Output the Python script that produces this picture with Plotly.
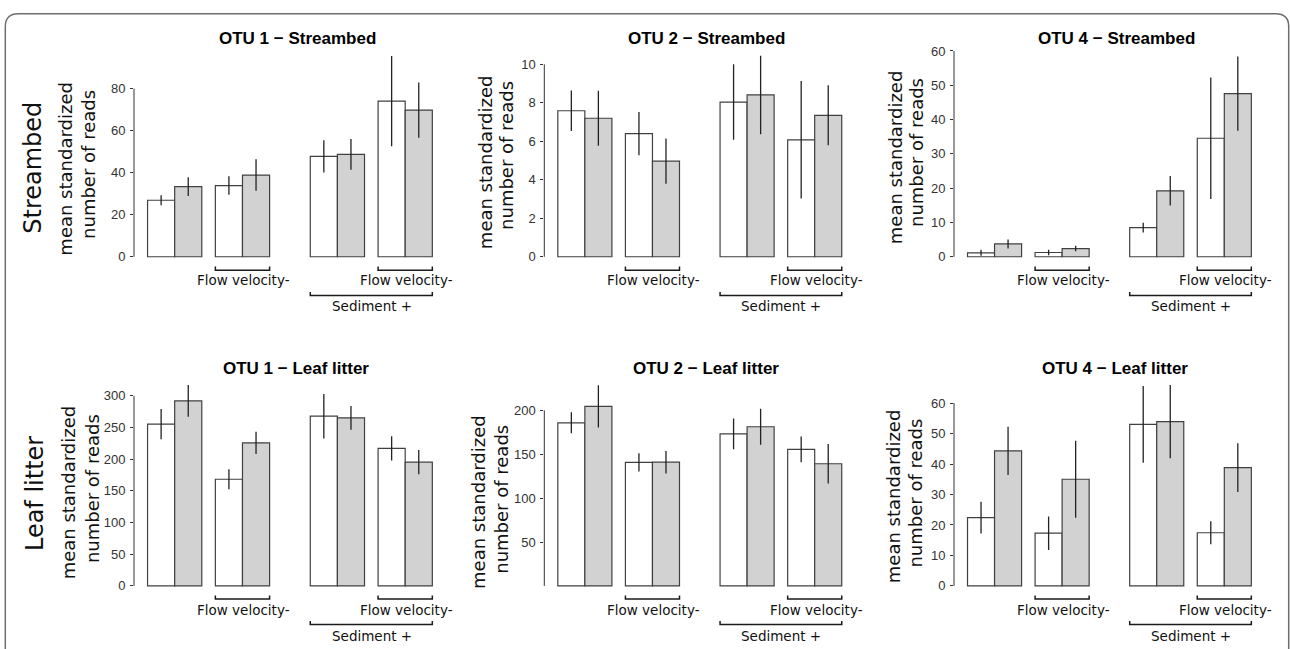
import plotly.graph_objects as go

# ---------------- data ----------------
panel_titles = ["OTU 1 − Streambed", "OTU 2 − Streambed", "OTU 4 − Streambed",
                "OTU 1 − Leaf litter", "OTU 2 − Leaf litter", "OTU 4 − Leaf litter"]
row_labels = ["Streambed", "Leaf litter"]
ylab_line1 = "mean standardized"
ylab_line2 = "number of reads"
flow_label = "Flow velocity-"
sediment_label = "Sediment +"

# treatment groups (one white + one grey bar each)
groups = ["Control", "Flow velocity-", "Sediment +", "Sediment + / Flow velocity-"]

otu1_stream_white = [26.9, 33.9, 47.8, 74.1]
otu1_stream_white_se = [2.35, 4.4, 7.65, 21.5]
otu1_stream_grey = [33.4, 38.9, 48.75, 69.8]
otu1_stream_grey_se = [4.5, 7.5, 7.3, 13.1]

otu2_stream_white = [7.59, 6.40, 8.04, 6.08]
otu2_stream_white_se = [1.05, 1.12, 1.96, 3.05]
otu2_stream_grey = [7.20, 4.97, 8.41, 7.35]
otu2_stream_grey_se = [1.43, 1.18, 2.04, 1.56]

otu4_stream_white = [1.15, 1.24, 8.52, 34.55]
otu4_stream_white_se = [0.86, 0.8, 1.43, 17.7]
otu4_stream_grey = [3.73, 2.39, 19.23, 47.56]
otu4_stream_grey_se = [1.3, 0.8, 4.3, 10.8]

otu1_leaf_white = [255.4, 168.4, 267.9, 217.1]
otu1_leaf_white_se = [24.0, 15.8, 35.0, 19.2]
otu1_leaf_grey = [292.2, 225.9, 265.3, 195.4]
otu1_leaf_grey_se = [25.1, 17.6, 18.7, 19.0]

otu2_leaf_white = [185.8, 140.7, 173.1, 155.5]
otu2_leaf_white_se = [12.0, 10.3, 17.5, 14.6]
otu2_leaf_grey = [204.5, 141.0, 181.3, 139.2]
otu2_leaf_grey_se = [24.0, 12.8, 20.5, 22.6]

otu4_leaf_white = [22.4, 17.3, 53.0, 17.45]
otu4_leaf_white_se = [5.2, 5.5, 12.6, 3.8]
otu4_leaf_grey = [44.3, 35.0, 53.9, 38.8]
otu4_leaf_grey_se = [7.9, 12.6, 12.0, 8.0]

ticks_otu1_stream = [0, 20, 40, 60, 80]
ticks_otu2_stream = [0, 2, 4, 6, 8, 10]
ticks_otu4_stream = [0, 10, 20, 30, 40, 50, 60]
ticks_otu1_leaf = [0, 50, 100, 150, 200, 250, 300]
ticks_otu2_leaf = [50, 100, 150, 200]
ticks_otu4_leaf = [0, 10, 20, 30, 40, 50, 60]

panels = [
    (otu1_stream_white, otu1_stream_white_se, otu1_stream_grey, otu1_stream_grey_se, ticks_otu1_stream),
    (otu2_stream_white, otu2_stream_white_se, otu2_stream_grey, otu2_stream_grey_se, ticks_otu2_stream),
    (otu4_stream_white, otu4_stream_white_se, otu4_stream_grey, otu4_stream_grey_se, ticks_otu4_stream),
    (otu1_leaf_white, otu1_leaf_white_se, otu1_leaf_grey, otu1_leaf_grey_se, ticks_otu1_leaf),
    (otu2_leaf_white, otu2_leaf_white_se, otu2_leaf_grey, otu2_leaf_grey_se, ticks_otu2_leaf),
    (otu4_leaf_white, otu4_leaf_white_se, otu4_leaf_grey, otu4_leaf_grey_se, ticks_otu4_leaf),
]

# ---------------- layout geometry (pixels) ----------------
W, H = 1290, 649
col_axis_px = [134.0, 544.3, 954.0]       # y-axis line position per column
col_unit_px = [27.12, 27.04, 27.03]       # pixels per bar width
row_zero_px = [255.7, 590.0]              # pixel of value 0 per row
row_top_px = [44.0, 378.0]                # top of plotting region per row
top_tick_px = [85.0, 60.3, 46.7, 397.0, 411.7, 404.3]  # pixel of highest tick per panel
space_before = [0.5, 0.5, 1.5, 0.5]       # gap before each pair, in bar widths
x_max = 11.3

title_pos = [(297.2, 34.1), (706.7, 34.1), (1116.2, 34.1),
             (296.2, 369.1), (705.5, 369.1), (1114.7, 369.1)]
ylab1_pos = [(65.4, 165.8), (485.4, 159.2), (895.4, 154.2),
             (68.7, 495.3), (478.7, 505.0), (893.7, 499.2)]
ylab2_pos = [(88.7, 161.7), (507.0, 153.3), (917.0, 150.3),
             (92.0, 491.7), (502.0, 502.5), (915.4, 495.8)]
row_label_pos = [(33.3, 165.0), (34.9, 495.8)]
bracket_px = [  # flow line y, flow tip y, flow text y, sed line y, sed tip y, sed text y
    (269.3, 265.7, 279.2, 295.0, 291.4, 306.2),
    (603.3, 599.7, 614.3, 629.3, 625.7, 640.8),
]

FONT_V = "DejaVu Sans, Verdana, sans-serif"
FONT_A = "Liberation Sans, Arial, Helvetica, sans-serif"
WHITE = "#ffffff"
GREY = "#d1d2d1"
EDGE = "#404040"
INK = "#111111"


def px(x):
    return x / W


def py(y):
    return 1 - y / H


# bar left edges
offsets = []
acc = 0.0
for s in space_before:
    acc += s
    offsets.append(acc)
    acc += 2.0
white_x = [o + 0.5 for o in offsets]
grey_x = [o + 1.5 for o in offsets]

fig = go.Figure()
shapes = []
annotations = []
layout_axes = {}

for i, (wv, wse, gv, gse, tks) in enumerate(panels):
    r, c = divmod(i, 3)
    n = i + 1
    xa = "x" if n == 1 else f"x{n}"
    ya = "y" if n == 1 else f"y{n}"
    xkey = "xaxis" if n == 1 else f"xaxis{n}"
    ykey = "yaxis" if n == 1 else f"yaxis{n}"

    y0 = row_zero_px[r]
    ptop = row_top_px[r]
    pbot = y0 + 3.0
    tmax = max(tks)
    ppu = (y0 - top_tick_px[i]) / tmax
    yr = [-(pbot - y0) / ppu, (y0 - ptop) / ppu]

    x0px = col_axis_px[c]
    x1px = x0px + x_max * col_unit_px[c]

    layout_axes[xkey] = dict(domain=[px(x0px), px(x1px)], range=[0, x_max], visible=False,
                             anchor=ya, fixedrange=True)
    layout_axes[ykey] = dict(domain=[py(pbot), py(ptop)], range=yr, anchor=xa,
                             showgrid=False, zeroline=False, showline=False,
                             ticks="outside", ticklen=3, tickwidth=1, tickcolor="#333333",
                             tickmode="array", tickvals=tks, ticktext=[str(t) for t in tks],
                             tickfont=dict(family=FONT_A, size=13, color="#333333"),
                             ticklabelstandoff=2, fixedrange=True)

    err_style = dict(type="data", symmetric=True, width=0, thickness=1.3, color="#222222")
    fig.add_trace(go.Bar(x=white_x, y=wv, width=1.0, xaxis=xa, yaxis=ya,
                         marker=dict(color=WHITE, line=dict(color=EDGE, width=1.2)),
                         error_y=dict(array=wse, **err_style), showlegend=False,
                         hoverinfo="skip"))
    fig.add_trace(go.Bar(x=grey_x, y=gv, width=1.0, xaxis=xa, yaxis=ya,
                         marker=dict(color=GREY, line=dict(color=EDGE, width=1.2)),
                         error_y=dict(array=gse, **err_style), showlegend=False,
                         hoverinfo="skip"))

    # y axis line from 0 to highest tick
    shapes.append(dict(type="line", xref=f"{xa} domain", yref=ya, x0=0, x1=0, y0=0, y1=tmax,
                       line=dict(color="#333333", width=1)))

    # brackets
    fl, ft, ftxt, sl, st, stxt = bracket_px[r]
    for p in (1, 3):
        a, b = offsets[p], offsets[p] + 2.0
        shapes.append(dict(type="path", xref=xa, yref="paper",
                           path=f"M {a},{py(ft)} L {a},{py(fl)} L {b},{py(fl)} L {b},{py(ft)}",
                           line=dict(color="#1a1a1a", width=1.5)))
        annotations.append(dict(x=(a + b) / 2, y=py(ftxt), xref=xa, yref="paper",
                                text=flow_label, showarrow=False, xanchor="center",
                                yanchor="middle", xshift=1.5,
                                font=dict(family=FONT_V, size=13.5, color=INK)))
    a, b = offsets[2], offsets[3] + 2.0
    shapes.append(dict(type="path", xref=xa, yref="paper",
                       path=f"M {a},{py(st)} L {a},{py(sl)} L {b},{py(sl)} L {b},{py(st)}",
                       line=dict(color="#1a1a1a", width=1.5)))
    annotations.append(dict(x=(a + b) / 2, y=py(stxt), xref=xa, yref="paper",
                            text=sediment_label, showarrow=False, xanchor="center",
                            yanchor="middle", xshift=0.5,
                            font=dict(family=FONT_V, size=13.5, color=INK)))

    # titles and y labels
    tx, ty = title_pos[i]
    annotations.append(dict(x=px(tx), y=py(ty), xref="paper", yref="paper",
                            text=f"<b>{panel_titles[i]}</b>", showarrow=False,
                            xanchor="center", yanchor="middle",
                            font=dict(family=FONT_A, size=17, color="#000000")))
    for (lx, ly), txt in ((ylab1_pos[i], ylab_line1), (ylab2_pos[i], ylab_line2)):
        annotations.append(dict(x=px(lx), y=py(ly), xref="paper", yref="paper", text=txt,
                                textangle=-90, showarrow=False, xanchor="center",
                                yanchor="middle",
                                font=dict(family=FONT_V, size=18, color=INK)))

for (lx, ly), txt in zip(row_label_pos, row_labels):
    annotations.append(dict(x=px(lx), y=py(ly), xref="paper", yref="paper", text=txt,
                            textangle=-90, showarrow=False, xanchor="center", yanchor="middle",
                            font=dict(family=FONT_V, size=24, color=INK)))

# rounded frame (open at the bottom)
fl_, fr_, ft_, fb_, rad = 5.3, 1288.7, 9.0, 665.0, 13.0
shapes.append(dict(type="path", xref="paper", yref="paper",
                   path=(f"M {px(fl_)},{py(fb_)} L {px(fl_)},{py(ft_ + rad)} "
                         f"Q {px(fl_)},{py(ft_)} {px(fl_ + rad)},{py(ft_)} "
                         f"L {px(fr_ - rad)},{py(ft_)} "
                         f"Q {px(fr_)},{py(ft_)} {px(fr_)},{py(ft_ + rad)} "
                         f"L {px(fr_)},{py(fb_)}"),
                   line=dict(color="#6e6e6e", width=1.5)))

fig.update_layout(width=W, height=H, margin=dict(l=0, r=0, t=0, b=0),
                  paper_bgcolor="white", plot_bgcolor="rgba(0,0,0,0)",
                  barmode="overlay", showlegend=False, shapes=shapes,
                  annotations=annotations, **layout_axes)

fig.write_html("out.html", config={"displayModeBar": False},
               post_script="document.body.style.margin='0';document.body.style.overflow='hidden';")
